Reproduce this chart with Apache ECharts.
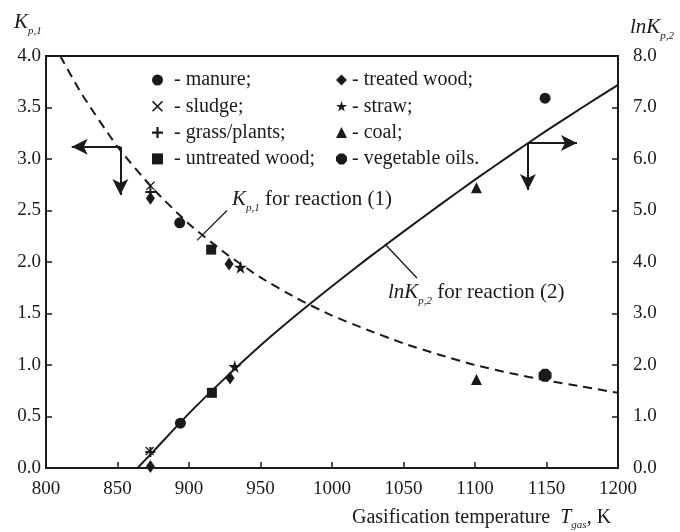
<!DOCTYPE html>
<html><head><meta charset="utf-8">
<script src="https://cdn.jsdelivr.net/npm/echarts@6/dist/echarts.min.js"></script>
<style>html,body{margin:0;padding:0;background:#fff}#c{width:680px;height:532px}</style>
</head><body><div id="c"></div>
<script>
// ---- data ----
const xMin = 800, xMax = 1200, xStep = 50;
const kMax = 4, kStep = 0.5;
const lnMax = 8, lnStep = 1;

// K_p,1 for reaction (1) (dashed curve, left axis)
const kp1CurveT = [810, 825, 850, 875, 900, 925, 950, 975, 1000, 1025, 1050, 1075, 1100, 1125, 1150, 1175, 1200];
const kp1CurveV = [4.0, 3.63, 3.12, 2.71, 2.37, 2.09, 1.85, 1.65, 1.48, 1.34, 1.21, 1.10, 1.00, 0.92, 0.85, 0.79, 0.73];
// lnK_p,2 for reaction (2) (solid curve, right axis)
const lnk2CurveT = [864, 875, 900, 925, 950, 975, 1000, 1025, 1050, 1075, 1100, 1125, 1150, 1175, 1200];
const lnk2CurveV = [0.0, 0.32, 1.06, 1.74, 2.38, 2.97, 3.53, 4.07, 4.59, 5.1, 5.6, 6.08, 6.55, 7.0, 7.44];

// materials (legend order)
const matNames = ['- manure;', '- sludge;', '- grass/plants;', '- untreated wood;',
                  '- treated wood;', '- straw;', '- coal;', '- vegetable oils.'];
// experimental points [T, K_p,1]
const manureK   = [[893.5, 2.38]];
const sludgeK   = [[873, 2.74]];
const grassK    = [[873, 2.68]];
const untreatedK= [[915.5, 2.12]];
const treatedK  = [[873, 2.62], [928, 1.98]];
const strawK    = [[936, 1.95]];
const coalK     = [[1101, 0.86]];
const vegK      = [[1149, 0.90]];
// experimental points [T, lnK_p,2]
const manureLn   = [[894, 0.87], [1149, 7.18]];
const sludgeLn   = [[872.5, 0.33]];
const grassLn    = [[873, 0.31]];
const untreatedLn= [[916, 1.46]];
const treatedLn  = [[873, 0.03], [928.7, 1.75]];
const strawLn    = [[932, 1.97]];
const coalLn     = [[1101, 5.44]];
const vegLn      = [];

const kPts  = [manureK, sludgeK, grassK, untreatedK, treatedK, strawK, coalK, vegK];
const lnPts = [manureLn, sludgeLn, grassLn, untreatedLn, treatedLn, strawLn, coalLn, vegLn];

// ---- styling ----
const INK = '#1a1a1a';
const SERIF = '"Liberation Serif", "Times New Roman", serif';
const symX = 'path://M0,1 L1,0 L5,4 L9,0 L10,1 L6,5 L10,9 L9,10 L5,6 L1,10 L0,9 L4,5 Z';
const symPlus = 'path://M4,0 H6 V4 H10 V6 H6 V10 H4 V6 H0 V4 H4 Z';
const symStar = 'path://M50,0 L61,35 L98,35 L68,57 L79,91 L50,70 L21,91 L32,57 L2,35 L39,35 Z';
const symOct = 'path://M3,0 H7 L10,3 V7 L7,10 H3 L0,7 V3 Z';
const matSymbols = ['circle', symX, symPlus, 'rect', 'diamond', symStar, 'triangle', symOct];
const matSizes = [11, 9, 10, 10, [9, 13], 13, 11, 13];

const zip = (a, b) => a.map((t, i) => [t, b[i]]);

const series = [];
series.push({
  type: 'line', name: 'Kp1', yAxisIndex: 0, data: zip(kp1CurveT, kp1CurveV),
  smooth: 0.2, symbol: 'none', lineStyle: {color: INK, width: 2, type: [9, 6]},
  markLine: {
    silent: true, animation: false, label: {show: false},
    symbol: ['none', 'arrow'], symbolSize: [12, 16],
    lineStyle: {color: INK, width: 2, type: 'solid'},
    data: [
      [{coord: [852, 3.12]}, {coord: [818, 3.12]}],
      [{coord: [852, 3.12]}, {coord: [852, 2.65]}],
      [{coord: [905.6, 2.21], symbol: 'none'}, {coord: [926.6, 2.50], symbol: 'none', lineStyle: {width: 1.3}}]
    ]
  }
});
series.push({
  type: 'line', name: 'lnK2', yAxisIndex: 1, data: zip(lnk2CurveT, lnk2CurveV),
  smooth: 0.2, symbol: 'none', lineStyle: {color: INK, width: 2},
  markLine: {
    silent: true, animation: false, label: {show: false},
    symbol: ['none', 'arrow'], symbolSize: [12, 16],
    lineStyle: {color: INK, width: 2, type: 'solid'},
    data: [
      [{coord: [1137, 6.31]}, {coord: [1171.3, 6.31]}],
      [{coord: [1137, 6.31]}, {coord: [1137, 5.40]}],
      [{coord: [1037, 4.35], symbol: 'none'}, {coord: [1059.4, 3.69], symbol: 'none', lineStyle: {width: 1.3}}]
    ]
  }
});
matNames.forEach((n, i) => {
  const base = {type: 'scatter', name: n, symbol: matSymbols[i], symbolSize: matSizes[i],
                itemStyle: {color: INK, opacity: 1}, z: 5};
  series.push(Object.assign({}, base, {yAxisIndex: 0, data: kPts[i]}));
  series.push(Object.assign({}, base, {yAxisIndex: 1, data: lnPts[i]}));
});

const legendBase = {
  orient: 'vertical', itemWidth: 11, itemHeight: 11, itemGap: 6.3,
  textStyle: {fontFamily: SERIF, fontSize: 20, color: INK, lineHeight: 20},
  itemStyle: {opacity: 1},
  selectedMode: false
};
const legendData = (idx) => idx.map(i => ({name: matNames[i], icon: matSymbols[i]}));

const axisText = {fontFamily: SERIF, fontSize: 19, color: INK};

const option = {
  animation: false,
  backgroundColor: '#fff',
  grid: {left: 46, right: 62, top: 56, bottom: 64, show: true, borderColor: INK, borderWidth: 2, backgroundColor: 'transparent'},
  xAxis: {
    type: 'value', min: xMin, max: xMax, interval: xStep,
    axisLine: {show: true, lineStyle: {color: INK, width: 2}},
    axisTick: {show: true, inside: true, length: 6, lineStyle: {color: INK, width: 1.5}},
    axisLabel: Object.assign({margin: 12, formatter: v => String(v)}, axisText),
    splitLine: {show: false}
  },
  yAxis: [{
    type: 'value', min: 0, max: kMax, interval: kStep, position: 'left',
    axisLine: {show: true, lineStyle: {color: INK, width: 2}},
    axisTick: {show: true, inside: true, length: 6, lineStyle: {color: INK, width: 1.5}},
    axisLabel: Object.assign({margin: 5, formatter: v => v.toFixed(1)}, axisText),
    splitLine: {show: false}
  }, {
    type: 'value', min: 0, max: lnMax, interval: lnStep, position: 'right',
    axisLine: {show: true, lineStyle: {color: INK, width: 2}},
    axisTick: {show: true, inside: true, length: 6, lineStyle: {color: INK, width: 1.5}},
    axisLabel: Object.assign({margin: 15, formatter: v => v.toFixed(1)}, axisText),
    splitLine: {show: false}
  }],
  legend: [
    Object.assign({}, legendBase, {left: 147, top: 65, data: legendData([0, 1, 2, 3]),
      textStyle: Object.assign({}, legendBase.textStyle, {padding: [0, 0, 0, 6]})}),
    Object.assign({}, legendBase, {left: 331, top: 65, data: legendData([4, 5, 6, 7])})
  ],
  graphic: [
    {type: 'text', left: 14, top: 12, z: 10, style: {
      text: '{i|K}{s|p,1}', rich: {
        i: {fontFamily: SERIF, fontSize: 21, fontStyle: 'italic', fill: INK, lineHeight: 24, verticalAlign: 'bottom'},
        s: {fontFamily: SERIF, fontSize: 11, fontStyle: 'italic', fill: INK, lineHeight: 24, verticalAlign: 'bottom', padding: [0, 0, -4, 0]}}}},
    {type: 'text', left: 630, top: 17, z: 10, style: {
      text: '{i|lnK}{s|p,2}', rich: {
        i: {fontFamily: SERIF, fontSize: 21, fontStyle: 'italic', fill: INK, lineHeight: 24, verticalAlign: 'bottom'},
        s: {fontFamily: SERIF, fontSize: 11, fontStyle: 'italic', fill: INK, lineHeight: 24, verticalAlign: 'bottom', padding: [0, 0, -4, 0]}}}},
    {type: 'text', left: 232, top: 189, z: 10, style: {
      text: '{i|K}{s|p,1}{n| for reaction (1)}', rich: {
        i: {fontFamily: SERIF, fontSize: 21, fontStyle: 'italic', fill: INK, lineHeight: 24, verticalAlign: 'bottom'},
        s: {fontFamily: SERIF, fontSize: 11, fontStyle: 'italic', fill: INK, lineHeight: 24, verticalAlign: 'bottom', padding: [0, 0, -4, 0]},
        n: {fontFamily: SERIF, fontSize: 21, fill: INK, lineHeight: 24, verticalAlign: 'bottom'}}}},
    {type: 'text', left: 388, top: 282, z: 10, style: {
      text: '{i|lnK}{s|p,2}{n| for reaction (2)}', rich: {
        i: {fontFamily: SERIF, fontSize: 21, fontStyle: 'italic', fill: INK, lineHeight: 24, verticalAlign: 'bottom'},
        s: {fontFamily: SERIF, fontSize: 11, fontStyle: 'italic', fill: INK, lineHeight: 24, verticalAlign: 'bottom', padding: [0, 0, -4, 0]},
        n: {fontFamily: SERIF, fontSize: 21, fill: INK, lineHeight: 24, verticalAlign: 'bottom'}}}},
    {type: 'text', left: 352, top: 508, z: 10, style: {
      text: '{n|Gasification temperature  }{i|T}{s|gas}{n|, K}', rich: {
        i: {fontFamily: SERIF, fontSize: 20, fontStyle: 'italic', fill: INK, lineHeight: 24, verticalAlign: 'bottom'},
        s: {fontFamily: SERIF, fontSize: 11, fontStyle: 'italic', fill: INK, lineHeight: 24, verticalAlign: 'bottom', padding: [0, 0, -3, 0]},
        n: {fontFamily: SERIF, fontSize: 20, fill: INK, lineHeight: 24, verticalAlign: 'bottom'}}}}
  ],
  series: series
};

const chart = echarts.init(document.getElementById('c'), null, {renderer: 'canvas'});
chart.setOption(option);
</script>
</body></html>
